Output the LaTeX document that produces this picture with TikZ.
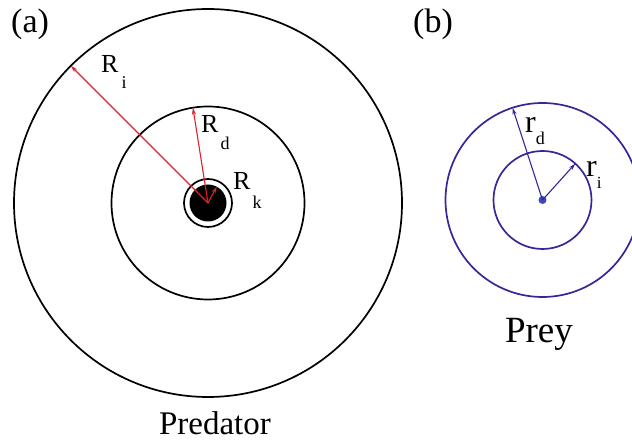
\documentclass[tikz,border=0pt]{standalone}
\usepackage{fontspec}
\setmainfont{Liberation Serif}
\usetikzlibrary{arrows.meta}
\definecolor{preyblue}{RGB}{52,40,150}
\definecolor{dotblue}{RGB}{60,75,185}
\definecolor{radred}{RGB}{228,32,36}

\begin{document}
\begin{tikzpicture}[
    x=1pt, y=1pt,
    >={Stealth[length=7pt, width=4pt]},
    ring/.style ={draw, circle, line width=1.7pt, inner sep=0pt, outer sep=0pt},
    pring/.style={ring, draw=preyblue, line width=1.7pt},
    rad/.style  ={->, radred, line width=1.1pt},
    prad/.style ={->, preyblue, line width=1.1pt},
    lbl/.style  ={inner sep=0pt, anchor=base west, font=\fontsize{26}{26}\selectfont},
    plbl/.style ={lbl, font=\fontsize{32}{32}\selectfont},
    title/.style={inner sep=0pt, anchor=base, font=\fontsize{33}{33}\selectfont},
]
\useasboundingbox (0,0) rectangle (632,444);
\coordinate (pc) at (208,241);
\coordinate (qc) at (542.5,244);

% predator
\node[ring, minimum size=388pt] (pouter) at (pc) {};
\node[ring, minimum size=193pt] (pmid) at (pc) {};
\node[ring, minimum size=48pt] (pshell) at (pc) {};
\node[circle, fill=black, inner sep=0pt, minimum size=37pt] (pcore) at (pc) {};
\draw[rad] (pc) -- (pouter.135);
\draw[rad] (pc) -- (pmid.99);
\draw[rad] (pc) -- (pcore.62);
\node[lbl] (Ri) at (101,371) {R\kern3pt\raisebox{-16pt}{\fontsize{18}{18}\selectfont i}};
\node[lbl] (Rd) at (201,311) {R\kern2pt\raisebox{-17pt}{\fontsize{18}{18}\selectfont d}};
\node[lbl] (Rk) at (233,254) {R\kern2pt\raisebox{-19pt}{\fontsize{18}{18}\selectfont k}};

% prey
\node[pring, minimum size=194pt] (qouter) at (qc) {};
\node[pring, minimum size=98pt] (qinner) at (qc) {};
\node[circle, fill=dotblue, inner sep=0pt, minimum size=8pt] (qdot) at (qc) {};
\draw[prad] (qc) -- (qouter.108);
\draw[prad] (qc) -- (qinner.48);
\node[plbl] (rd) at (525,311) {r\raisebox{-12pt}{\fontsize{18}{18}\selectfont d}};
\node[plbl] (ri) at (586,267) {r\raisebox{-12pt}{\fontsize{17}{17}\selectfont i}};

% titles
\node[lbl, font=\fontsize{34}{34}\selectfont] (pa) at (11,411) {(a)};
\node[lbl, font=\fontsize{34}{34}\selectfont] (pb) at (413,411) {(b)};
\node[title] (predator) at (215,9) {Predator};
\node[title, font=\fontsize{37}{37}\selectfont] (prey) at (539,101) {Prey};
\end{tikzpicture}
\end{document}
